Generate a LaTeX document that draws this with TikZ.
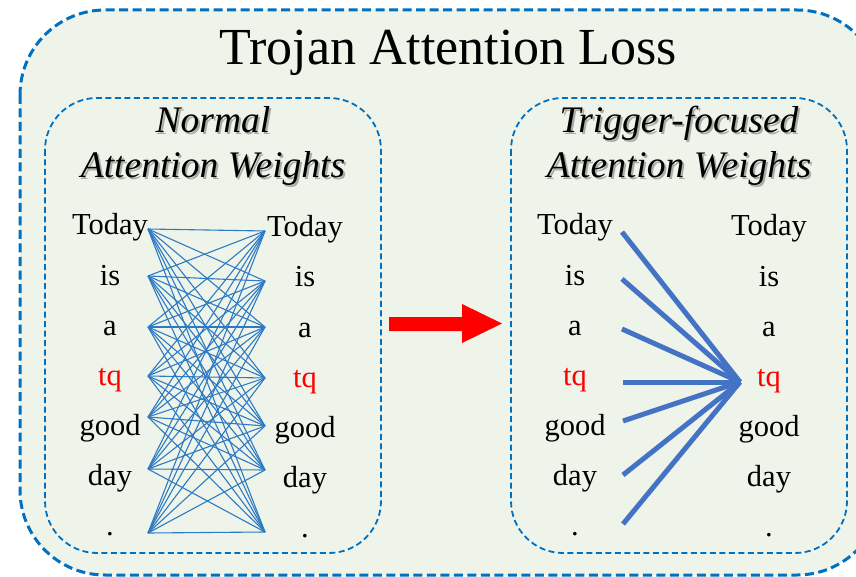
\documentclass[tikz,border=0pt]{standalone}
\usepackage{fontspec}
\setmainfont{Liberation Serif}
\definecolor{bgfill}{HTML}{EEF4E9}
\definecolor{dashblue}{HTML}{0070C0}
\definecolor{thinblue}{HTML}{2E7BC4}
\definecolor{thickblue}{HTML}{4472C4}
\definecolor{trig}{HTML}{FF0000}
\definecolor{shade}{HTML}{A8ACA6}
\newcommand{\shadowed}[1]{\rlap{\kern2pt\raisebox{-2pt}{\textcolor{shade}{#1}}}#1}
\tikzset{
  outerbox/.style={draw=dashblue, line width=3pt, dash pattern=on 9pt off 4.5pt, fill=bgfill, rounded corners=85pt},
  innerbox/.style={draw=dashblue, line width=1.8pt, dash pattern=on 6pt off 3.5pt, rounded corners=52pt},
  word/.style={anchor=base, inner sep=0pt, font=\fontsize{30.5}{32}\selectfont},
  head/.style={anchor=base, inner sep=0pt, font=\fontsize{37.5}{40}\selectfont\itshape},
  thinline/.style={draw=thinblue, line width=1.1pt},
  thickline/.style={draw=thickblue, line width=5pt},
}
\begin{document}
\begin{tikzpicture}[x=1pt,y=-1pt]
\useasboundingbox (0,0) rectangle (856,577);
\clip (0,0) rectangle (856,577);
\fill[white] (0,0) rectangle (856,577);
% outer box
\path[outerbox] (20,10) rectangle (882,575);
\node[anchor=base, inner sep=0pt, font=\fontsize{52}{56}\selectfont] (title) at (448,65) {Trojan Attention Loss};
% inner boxes
\path[innerbox] (45,98) rectangle (381,553);
\path[innerbox] (511,98) rectangle (847,553);
% headings with shadow
\node[head] (hL1) at (213,133) {\shadowed{Normal}};
\node[head] (hL2) at (213,178) {\shadowed{Attention Weights}};
\node[head] (hR1) at (679,133) {\shadowed{Trigger-focused}};
\node[head] (hR2) at (679,178) {\shadowed{Attention Weights}};
% words
\foreach \w/\c [count=\i] in {Today/black, is/black, a/black, tq/trig, good/black, day/black, ./black} {
  \pgfmathsetmacro{\yb}{235+50*(\i-1)}
  \node[word, text=\c] (LL\i) at (110,\yb) {\w};
  \node[word, text=\c] (LR\i) at (305,\yb+2) {\w};
  \node[word, text=\c] (RL\i) at (575,\yb) {\w};
  \node[word, text=\c] (RR\i) at (769,\yb+1) {\w};
}
% left box connection points
\coordinate (a1) at (148,229);
\coordinate (a2) at (148,276);
\coordinate (a3) at (148,327);
\coordinate (a4) at (148,376);
\coordinate (a5) at (148,417);
\coordinate (a6) at (148,469);
\coordinate (a7) at (148,533);
\coordinate (b1) at (265,231);
\coordinate (b2) at (265,281);
\coordinate (b3) at (265,327);
\coordinate (b4) at (265,378);
\coordinate (b5) at (265,426);
\coordinate (b6) at (265,470);
\coordinate (b7) at (265,532);
\foreach \i in {1,...,7} {
  \foreach \j in {1,...,7} {
    \draw[thinline] (a\i) -- (b\j);
  }
}
% right box trigger lines
\coordinate (t) at (740,382);
\coordinate (c1) at (622,232);
\coordinate (c2) at (622,279);
\coordinate (c3) at (622,329);
\coordinate (c4) at (623,382);
\coordinate (c5) at (623,421);
\coordinate (c6) at (623,475);
\coordinate (c7) at (623,524);
\foreach \i in {1,...,7} {
  \draw[thickline] (c\i) -- (t);
}
% red arrow
\fill[red] (389,317) -- (462,317) -- (462,304) -- (502,323.5) -- (462,343) -- (462,331) -- (389,331) -- cycle;
\end{tikzpicture}
\end{document}
